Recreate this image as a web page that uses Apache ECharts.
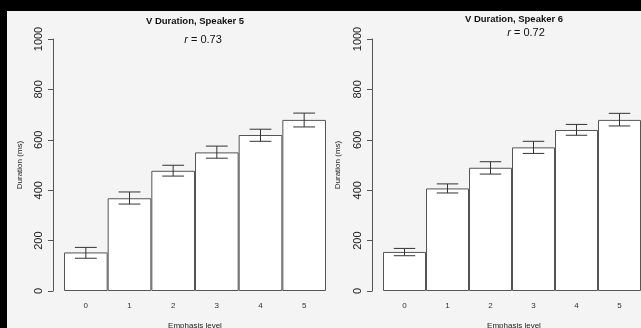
<!DOCTYPE html>
<html><head><meta charset="utf-8">
<script src="https://cdn.jsdelivr.net/npm/echarts/dist/echarts.min.js"></script>
<style>html,body{margin:0;padding:0;background:#f4f4f4}#c{width:641px;height:328px}</style>
</head><body><div id="c"></div>
<script>
const categories = ['0', '1', '2', '3', '4', '5'];
const yTicks = [0, 200, 400, 600, 800, 1000];
// Speaker 5
const meanS5 = [153, 368, 477, 550, 619, 679];
const upperS5 = [173, 393, 499, 575, 642, 706];
const lowerS5 = [130, 345, 456, 527, 594, 651];
// Speaker 6
const meanS6 = [155, 407, 489, 570, 639, 679];
const upperS6 = [169, 425, 513, 594, 661, 705];
const lowerS6 = [140, 389, 464, 546, 618, 655];
const titles = ['V Duration, Speaker 5', 'V Duration, Speaker 6'];
const rValues = ['0.73', '0.72'];

const FONT = 'Liberation Sans, Arial, Helvetica, sans-serif';
const chart = echarts.init(document.getElementById('c'));

function errRender(params, api) {
  const x = api.value(0), lo = api.value(1), hi = api.value(2);
  const p1 = api.coord([x, hi]), p2 = api.coord([x, lo]);
  const w = api.size([1, 0])[0] * 0.25;
  const st = { stroke: '#333', lineWidth: 1 };
  return { type: 'group', children: [
    { type: 'line', shape: { x1: p1[0], y1: p1[1], x2: p2[0], y2: p2[1] }, style: st },
    { type: 'line', shape: { x1: p1[0] - w, y1: p1[1], x2: p1[0] + w, y2: p1[1] }, style: st },
    { type: 'line', shape: { x1: p2[0] - w, y1: p2[1], x2: p2[0] + w, y2: p2[1] }, style: st }
  ]};
}

function xAx(i) {
  return { type: 'category', gridIndex: i, data: categories, boundaryGap: true,
    axisLine: { show: false }, axisTick: { show: false },
    axisLabel: { fontSize: 8, color: '#333', margin: 11, fontFamily: FONT } };
}
function yAx(i) {
  return { type: 'value', gridIndex: i, min: yTicks[0], max: yTicks[yTicks.length - 1], interval: 200,
    offset: 11, splitLine: { show: false },
    axisLine: { show: true, lineStyle: { color: '#555', width: 1 } },
    axisTick: { show: true, length: 5, lineStyle: { color: '#555' } },
    axisLabel: { rotate: 90, fontSize: 11, color: '#222', margin: 9, fontFamily: FONT,
      formatter: function (v) { return String(v); } } };
}
function barS(i, data) {
  return { type: 'bar', xAxisIndex: i, yAxisIndex: i, data: data, barCategoryGap: '0%',
    itemStyle: { color: '#ffffff', borderColor: '#555', borderWidth: 1 }, silent: true };
}
function errS(i, lo, hi) {
  return { type: 'custom', xAxisIndex: i, yAxisIndex: i, renderItem: errRender,
    data: categories.map((c, k) => [k, lo[k], hi[k]]), z: 5, silent: true };
}
function txt(x, y, text, size, extra) {
  return Object.assign({ type: 'text', x: x, y: y,
    style: Object.assign({ text: text, fontSize: size, fontFamily: FONT, fill: '#111',
      align: 'center', verticalAlign: 'middle' }, extra || {}) });
}

chart.setOption({
  backgroundColor: '#f4f4f4',
  animation: false,
  grid: [
    { left: 64, top: 39, width: 262, height: 252 },
    { left: 383, top: 39, width: 262, height: 252 }
  ],
  xAxis: [xAx(0), xAx(1)],
  yAxis: [yAx(0), yAx(1)],
  series: [barS(0, meanS5), errS(0, lowerS5, upperS5), barS(1, meanS6), errS(1, lowerS6, upperS6)],
  graphic: [
    { type: 'rect', shape: { x: 0, y: 0, width: 641, height: 11 }, style: { fill: '#000' }, z: 100 },
    { type: 'rect', shape: { x: 0, y: 0, width: 7, height: 328 }, style: { fill: '#000' }, z: 100 },
    txt(195, 21, titles[0], 9.5, { fontWeight: 'bold' }),
    txt(514, 19, titles[1], 9.5, { fontWeight: 'bold' }),
    txt(203, 40, '{i|r} = ' + rValues[0], 11, { rich: { i: { fontStyle: 'italic', fontSize: 11, fontFamily: FONT, fill: '#111' } } }),
    txt(526, 33, '{i|r} = ' + rValues[1], 11, { rich: { i: { fontStyle: 'italic', fontSize: 11, fontFamily: FONT, fill: '#111' } } }),
    txt(195, 326, 'Emphasis level', 8, { fill: '#222' }),
    txt(514, 326, 'Emphasis level', 8, { fill: '#222' }),
    Object.assign(txt(20, 165, 'Duration (ms)', 8, { fill: '#222' }), { rotation: Math.PI / 2 }),
    Object.assign(txt(338, 165, 'Duration (ms)', 8, { fill: '#222' }), { rotation: Math.PI / 2 })
  ]
});
</script></body></html>
